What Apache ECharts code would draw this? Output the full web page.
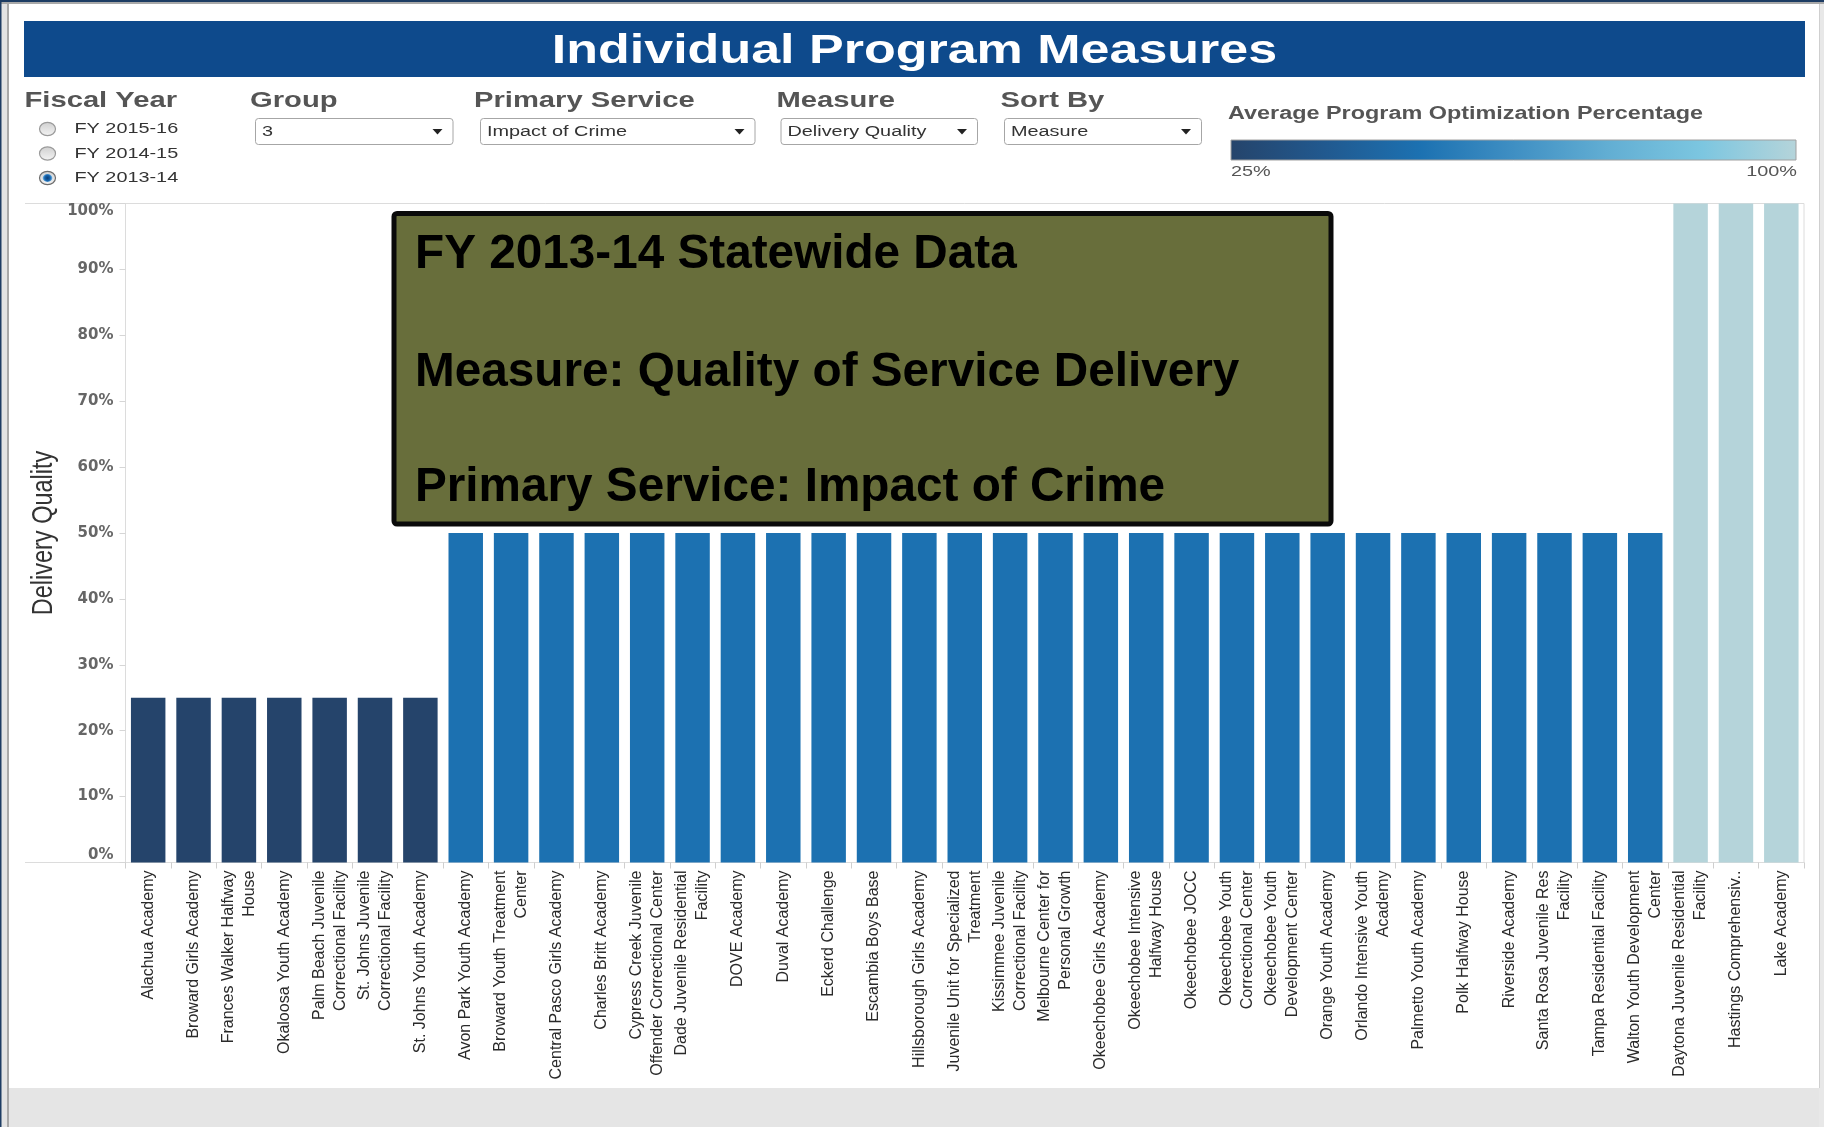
<!DOCTYPE html>
<html><head><meta charset="utf-8">
<script src="https://cdn.jsdelivr.net/npm/echarts@6/dist/echarts.min.js"></script>
<style>html,body{margin:0;padding:0;background:#fff;overflow:hidden}#chart{width:1824px;height:1127px}</style>
</head><body><div id="chart"></div>
<script>
// ---------------- data ----------------
const programs = [
  'Alachua Academy','Broward Girls Academy','Frances Walker Halfway\nHouse','Okaloosa Youth Academy',
  'Palm Beach Juvenile\nCorrectional Facility','St. Johns Juvenile\nCorrectional Facility','St. Johns Youth Academy',
  'Avon Park Youth Academy','Broward Youth Treatment\nCenter','Central Pasco Girls Academy','Charles Britt Academy',
  'Cypress Creek Juvenile\nOffender Correctional Center','Dade Juvenile Residential\nFacility','DOVE Academy',
  'Duval Academy','Eckerd Challenge','Escambia Boys Base','Hillsborough Girls Academy',
  'Juvenile Unit for Specialized\nTreatment','Kissimmee Juvenile\nCorrectional Facility','Melbourne Center for\nPersonal Growth',
  'Okeechobee Girls Academy','Okeechobee Intensive\nHalfway House','Okeechobee JOCC','Okeechobee Youth\nCorrectional Center',
  'Okeechobee Youth\nDevelopment Center','Orange Youth Academy','Orlando Intensive Youth\nAcademy','Palmetto Youth Academy',
  'Polk Halfway House','Riverside Academy','Santa Rosa Juvenile Res\nFacility','Tampa Residential Facility',
  'Walton Youth Development\nCenter','Daytona Juvenile Residential\nFacility','Hastings Comprehensiv..','Lake Academy'
];
const deliveryQuality = [
  25, 25, 25, 25, 25, 25, 25,                 // Alachua .. St. Johns Youth
  50, 50, 50, 50, 50, 50, 50, 50, 50, 50,     // Avon Park .. Escambia
  50, 50, 50, 50, 50, 50, 50, 50, 50, 50,     // Hillsborough .. Orange
  50, 50, 50, 50, 50, 50, 50,                 // Orlando .. Walton
  100, 100, 100                               // Daytona, Hastings, Lake
];
const yAxisMin = 0, yAxisMax = 100, yAxisStep = 10;
const colorScaleMin = 25, colorScaleMax = 100;
const colorScaleLabels = ['25%', '100%'];
const colorScaleColors = ['#25446B','#21598F','#1C71B1','#3F8FC3','#62AED3','#7CC6E0','#B5D4DA'];
const pageTitle = 'Individual Program Measures';
const yAxisTitle = 'Delivery Quality';
const legendTitle = 'Average Program Optimization Percentage';
const fiscalYears = ['FY 2015-16', 'FY 2014-15', 'FY 2013-14'];
const selectedFiscalYear = 'FY 2013-14';
const filterHeaders = ['Fiscal Year', 'Group', 'Primary Service', 'Measure', 'Sort By'];
const filterValues = ['', '3', 'Impact of Crime', 'Delivery Quality', 'Measure'];
const noteLines = ['FY 2013-14 Statewide Data', 'Measure: Quality of Service Delivery', 'Primary Service: Impact of Crime'];

// ---------------- layout / style ----------------
const SX = 1.28;           // horizontal stretch of the screenshot's UI text
const G = [];
function rect(x, y, w, h, fill, extra) { G.push(Object.assign({type:'rect', shape:{x, y, width:w, height:h}, style:{fill}, silent:true}, extra || {})); }
function text(x, y, t, font, fill, align, extra) {
  G.push(Object.assign({type:'text', x, y, scaleX: SX, silent:true,
    style:{text:t, font, fill, textAlign:align||'left', textVerticalAlign:'middle', align:align||'left', verticalAlign:'middle'}}, extra || {}));
}
// frame
rect(0, 0, 1824, 2, '#1d3c63');
rect(0, 2, 1824, 2, '#a9a9a9');
rect(0, 4, 8, 1123, '#e3e3e3');
rect(0, 0, 1.5, 1127, '#1d3c63');
rect(7, 4, 2, 1123, '#a8a8a8');
rect(1819, 4, 5, 1123, '#e8e8e8');
rect(1819, 4, 1, 1084, '#cfcfcf');
rect(9, 1088, 1810, 39, '#e5e5e5');
// banner
rect(24, 21, 1781, 56, '#0E4A8C');
text(914.5, 52, pageTitle, 'bold 40px "Liberation Sans", Arial, sans-serif', '#ffffff', 'center', {scaleX: 1.30});
// filter headers
const headerX = [24.5, 250, 474, 776.5, 1000.5];
filterHeaders.forEach((h, i) => text(headerX[i], 100.5, h, 'bold 22.8px "Liberation Sans", Arial, sans-serif', '#555555', 'left'));
// radio buttons
const radioY = [129, 153.5, 178];
fiscalYears.forEach((fy, i) => {
  const sel = fy === selectedFiscalYear;
  G.push({type:'ellipse', silent:true, shape:{cx:47.5, cy:radioY[i], rx:8, ry:6.6},
    style:{fill:{type:'linear', x:0, y:0, x2:0, y2:1, colorStops:[{offset:0, color:'#cfcfcf'},{offset:1, color:'#f4f4f4'}]}, stroke: sel ? '#6d6d6d' : '#9a9a9a', lineWidth:1.2}});
  if (sel) {
    G.push({type:'ellipse', silent:true, shape:{cx:47.5, cy:radioY[i], rx:4.8, ry:3.9},
      style:{fill:{type:'radial', x:0.5, y:0.5, r:0.6, colorStops:[{offset:0, color:'#0b3d77'},{offset:0.6, color:'#1765ad'},{offset:1, color:'#6fb3e6'}]}}});
  }
  text(74.5, radioY[i], fy, '15.5px "Liberation Sans", Arial, sans-serif', '#333333', 'left');
});
// dropdowns
const boxes = [null, [255, 452.5], [480, 754.5], [780.5, 977], [1004, 1201]];
boxes.forEach((b, i) => {
  if (!b) return;
  G.push({type:'rect', silent:true, shape:{x:b[0]+0.5, y:118.5, width:b[1]-b[0], height:26, r:3},
    style:{fill:'#ffffff', stroke:'#a6a6a6', lineWidth:1}});
  text(b[0] + 7, 131.5, filterValues[i], '15.5px "Liberation Sans", Arial, sans-serif', '#333333', 'left');
  const cx = b[1] - 15;
  G.push({type:'polygon', silent:true, shape:{points:[[cx-5, 129], [cx+5, 129], [cx, 134.5]]}, style:{fill:'#222222'}});
});
// colour legend
text(1228, 113.5, legendTitle, 'bold 18.3px "Liberation Sans", Arial, sans-serif', '#555555', 'left');
G.push({type:'rect', silent:true, shape:{x:1231, y:140, width:565, height:20},
  style:{stroke:'#a0a0a0', lineWidth:1,
    fill:{type:'linear', x:0, y:0, x2:1, y2:0, colorStops: colorScaleColors.map((c, i) => ({offset: i/(colorScaleColors.length-1), color:c}))}}});
text(1231, 171.5, colorScaleLabels[0], '15.5px "Liberation Sans", Arial, sans-serif', '#555555', 'left');
text(1797, 171.5, colorScaleLabels[1], '15.5px "Liberation Sans", Arial, sans-serif', '#555555', 'right');
// y-axis title (stretched glyphs like the screenshot)
G.push({type:'text', silent:true, x:44, y:533, rotation:Math.PI/2, scaleY:1.28,
  style:{text:yAxisTitle, font:'23.5px "Liberation Sans", Arial, sans-serif', fill:'#333333', textAlign:'center', textVerticalAlign:'middle', align:'center', verticalAlign:'middle'}});
// plot frame extensions
G.push({type:'line', silent:true, shape:{x1:25, y1:203.5, x2:126, y2:203.5}, style:{stroke:'#dcdcdc', lineWidth:1}});
G.push({type:'line', silent:true, shape:{x1:25, y1:862.5, x2:126, y2:862.5}, style:{stroke:'#dcdcdc', lineWidth:1}});
// note box
G.push({type:'rect', silent:true, z:100, shape:{x:394, y:213.5, width:937, height:310.5, r:3},
  style:{fill:'#686E3B', stroke:'#0a0a0a', lineWidth:5}});
const noteY = [255, 372.5, 487.5];
noteLines.forEach((t, i) => G.push({type:'text', silent:true, z:101, x:415, y:noteY[i],
  style:{text:t, font:'bold 47.7px "Liberation Sans", Arial, sans-serif', fill:'#000000', textAlign:'left', textVerticalAlign:'middle', align:'left', verticalAlign:'middle'}}));

const chart = echarts.init(document.getElementById('chart'), null, {renderer:'canvas'});
chart.setOption({
  backgroundColor:'#ffffff',
  animation:false,
  grid:{left:125.5, right:20, top:203.5, bottom:264.5, show:true, borderColor:'#dcdcdc', borderWidth:1, containLabel:false},
  visualMap:{show:false, type:'continuous', seriesIndex:0, min:colorScaleMin, max:colorScaleMax, inRange:{color:colorScaleColors}},
  xAxis:{type:'category', data:programs,
    axisLine:{show:true, lineStyle:{color:'#dcdcdc', width:1}},
    axisTick:{show:true, length:6, lineStyle:{color:'#cfcfcf'}},
    axisLabel:{interval:0, rotate:90, margin:8, color:'#2a2a2a', fontFamily:'"Liberation Sans", Arial, sans-serif', fontSize:16, lineHeight:21}},
  yAxis:{type:'value', min:yAxisMin, max:yAxisMax, interval:yAxisStep,
    axisLine:{show:true, lineStyle:{color:'#dcdcdc', width:1}},
    axisTick:{show:true, length:6, lineStyle:{color:'#d6d6d6'}},
    splitLine:{show:false},
    axisLabel:{formatter:'{value}%', margin:12, color:'#666666', fontFamily:'"DejaVu Sans", Verdana, sans-serif', fontWeight:'bold', fontSize:15,
      verticalAlignMaxLabel:'top', verticalAlignMinLabel:'bottom'}},
  series:[{type:'bar', data:deliveryQuality, barCategoryGap:'24%', itemStyle:{borderWidth:0}}],
  graphic:G
});
</script></body></html>
